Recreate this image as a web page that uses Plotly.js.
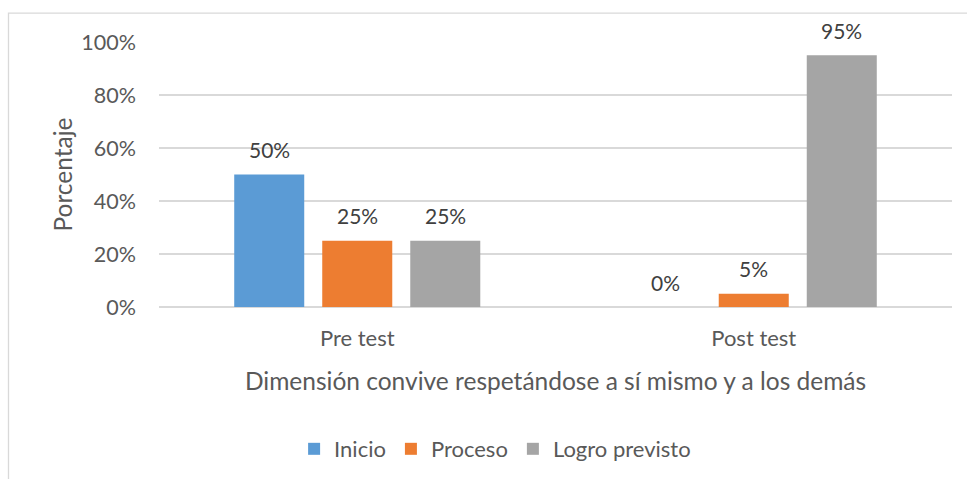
<!DOCTYPE html>
<html>
<head>
<meta charset="utf-8">
<script src="https://cdn.plot.ly/plotly-3.0.1.min.js"></script>
<style>html,body{margin:0;padding:0;background:#fff;}#chart{width:967px;height:479px;}</style>
</head>
<body>
<div id="chart"></div>
<script>
const categories = ["Pre test", "Post test"];
const seriesNames = ["Inicio", "Proceso", "Logro previsto"];
const inicio = [0.50, 0.00];
const proceso = [0.25, 0.05];
const logro = [0.25, 0.95];
const yTickVals = [0, 0.2, 0.4, 0.6, 0.8, 1.0];
const yTickText = ["0%", "20%", "40%", "60%", "80%", "100%"];
const colors = ["#5B9BD5", "#ED7D31", "#A5A5A5"];

const FONT = "Lato, 'Open Sans', sans-serif";
const values = [inicio, proceso, logro];
const traces = values.map((v, i) => ({
  type: "bar",
  name: seriesNames[i],
  x: categories,
  y: v,
  marker: {color: colors[i]},
  hoverinfo: "none"
}));

// data labels as annotations anchored to each bar (offset within group)
const barShift = [-88, 0, 88];
const annotations = [];
values.forEach((v, i) => {
  v.forEach((val, j) => {
    annotations.push({
      x: categories[j], y: val, xref: "x", yref: "y",
      text: Math.round(val * 100) + "%",
      showarrow: false, xshift: barShift[i], yshift: 25,
      xanchor: "center", yanchor: "middle",
      font: {family: FONT, size: 21, color: "#404040"}
    });
  });
});

const layout = {
  width: 967, height: 479,
  margin: {l: 159, r: 15, t: 42, b: 171.5},
  paper_bgcolor: "#fff", plot_bgcolor: "#fff",
  barmode: "group",
  bargap: 0.334,
  bargroupgap: 0.2045,
  font: {family: FONT, color: "#595959", size: 21},
  xaxis: {
    automargin: false,
    showgrid: false, showline: false, zeroline: false, ticks: "",
    ticklabelstandoff: 16,
    tickfont: {family: FONT, size: 22, color: "#595959"},
    title: {text: "Dimensión convive respetándose a sí mismo y a los demás", font: {family: FONT, size: 24.5, color: "#595959"}, standoff: 22}
  },
  yaxis: {
    automargin: false,
    range: [0, 1.0],
    tickvals: yTickVals, ticktext: yTickText,
    showgrid: true, gridcolor: "#D9D9D9", gridwidth: 1.3,
    zeroline: true, zerolinecolor: "#D9D9D9", zerolinewidth: 1.3,
    showline: false, ticks: "", ticklen: 0,
    ticklabelstandoff: 22,
    tickfont: {family: FONT, size: 21.5, color: "#595959"},
    title: {text: "Porcentaje", font: {family: FONT, size: 24.5, color: "#595959"}, standoff: 1}
  },
  annotations: annotations,
  showlegend: true,
  legend: {
    orientation: "h",
    xref: "container", yref: "container",
    x: 0.512, xanchor: "center", y: 0.0626, yanchor: "middle",
    font: {family: FONT, size: 22, color: "#595959"},
    itemwidth: 30, traceorder: "normal"
  },
  shapes: [{
    type: "rect", xref: "paper", yref: "paper",
    x0: -0.1898, x1: 1.2, y0: -0.7, y1: 1.1086,
    line: {color: "#D9D9D9", width: 1.3}, fillcolor: "rgba(0,0,0,0)", layer: "below"
  }]
};

Plotly.newPlot("chart", traces, layout, {displayModeBar: false, staticPlot: true});
</script>
</body>
</html>
